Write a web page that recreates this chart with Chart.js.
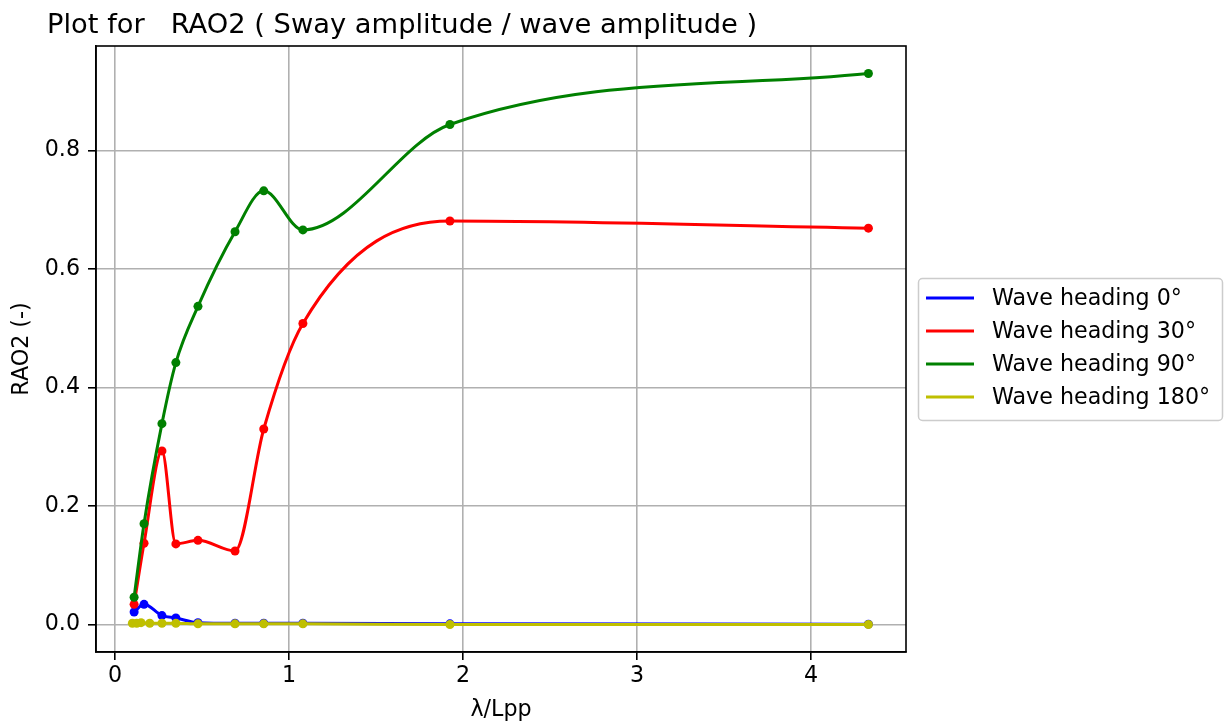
<!DOCTYPE html>
<html>
<head>
<meta charset="utf-8">
<script src="https://cdn.jsdelivr.net/npm/chart.js@4/dist/chart.umd.min.js"></script>
<style>
  body { margin: 0; background: #fff; }
  #wrap { width: 1227px; height: 722px; }
</style>
</head>
<body>
<div id="wrap"><canvas id="rao" width="1227" height="722"></canvas></div>
<script>
// lambda / Lpp sample points
const lambdaLpp = [0.11, 0.167, 0.27, 0.35, 0.477, 0.69, 0.855, 1.08, 1.925, 4.33];
const lambdaLpp180 = [0.10, 0.125, 0.15, 0.20, 0.27, 0.35, 0.477, 0.69, 0.855, 1.08, 1.925, 4.33];

// RAO2 per wave heading
const rao0 = [0.021, 0.034, 0.015, 0.011, 0.003, 0.002, 0.002, 0.002, 0.001, 0.0005];
const rao30 = [0.034, 0.137, 0.293, 0.136, 0.142, 0.124, 0.330, 0.508, 0.681, 0.669];
const rao90 = [0.046, 0.170, 0.339, 0.442, 0.537, 0.663, 0.732, 0.666, 0.844, 0.930];
const rao180 = [0.002, 0.002, 0.003, 0.002, 0.002, 0.002, 0.001, 0.001, 0.001, 0.001, 0.000, 0.000];

const headings = ["Wave heading 0°", "Wave heading 30°", "Wave heading 90°", "Wave heading 180°"];
const colors = ["#0000ff", "#ff0000", "#008000", "#bfbf00"];

const xTicks = [0, 1, 2, 3, 4];
const yTicks = [0.0, 0.2, 0.4, 0.6, 0.8];

const FONT = "'DejaVu Sans', sans-serif";
const FS = 22.2;

function pts(xs, ys) {
    return xs.map((x, i) => ({ x: x, y: ys[i] }));
}

function series(i, xs, ys, order) {
    return {
        label: headings[i],
        data: pts(xs, ys),
        borderColor: colors[i],
        backgroundColor: colors[i],
        borderWidth: 3,
        pointRadius: 4.5,
        pointBorderWidth: 0,
        pointBackgroundColor: colors[i],
        cubicInterpolationMode: "monotone",
        order: order
    };
}

// frame, title and legend box in matplotlib style
const decor = {
    id: "decor",
    afterDraw(chart) {
        const ctx = chart.ctx;
        const a = chart.chartArea;
        ctx.save();
        ctx.strokeStyle = "#000";
        ctx.lineWidth = 1.6;
        ctx.strokeRect(a.left, a.top, a.right - a.left, a.bottom - a.top);

        ctx.fillStyle = "#000";
        ctx.font = "27.3px " + FONT;
        ctx.textBaseline = "alphabetic";
        ctx.textAlign = "left";
        ctx.fillText("Plot for   RAO2 ( Sway amplitude / wave amplitude )", 47, 33);

        // legend
        const lx = 918, ly = 278, lw = 304, lh = 142;
        ctx.beginPath();
        ctx.roundRect(lx + 0.5, ly + 0.5, lw, lh, 4);
        ctx.fillStyle = "rgba(255,255,255,0.8)";
        ctx.fill();
        ctx.strokeStyle = "#cccccc";
        ctx.lineWidth = 1.5;
        ctx.stroke();
        ctx.font = FS + "px " + FONT;
        ctx.textBaseline = "middle";
        headings.forEach((h, i) => {
            const y = 298 + i * 33;
            ctx.strokeStyle = colors[i];
            ctx.lineWidth = 3;
            ctx.beginPath();
            ctx.moveTo(926, y);
            ctx.lineTo(974, y);
            ctx.stroke();
            ctx.fillStyle = "#000";
            ctx.fillText(h, 992, y + 1);
        });
        ctx.restore();
    }
};

const gridOpts = { color: "#b0b0b0", lineWidth: 1.6, tickColor: "#000", tickLength: 8, tickWidth: 1.6 };

new Chart(document.getElementById("rao"), {
    type: "line",
    data: {
        datasets: [
            series(0, lambdaLpp, rao0, 3),
            series(1, lambdaLpp, rao30, 2),
            series(2, lambdaLpp, rao90, 1),
            series(3, lambdaLpp180, rao180, 0)
        ]
    },
    options: {
        responsive: false,
        animation: false,
        events: [],
        layout: { padding: { top: 46, right: 321, left: 0, bottom: 0 } },
        plugins: {
            legend: { display: false },
            title: { display: false },
            tooltip: { enabled: false }
        },
        scales: {
            x: {
                type: "linear",
                min: -0.109,
                max: 4.546,
                afterBuildTicks: s => { s.ticks = xTicks.map(v => ({ value: v })); },
                afterFit: s => { s.height = 70; },
                grid: gridOpts,
                border: { display: true, color: "#000", width: 1.6 },
                ticks: {
                    color: "#000",
                    padding: 3,
                    maxRotation: 0,
                    font: { family: FONT, size: FS },
                    callback: v => String(v)
                },
                title: {
                    display: true,
                    text: "λ/Lpp",
                    color: "#000",
                    padding: { top: 0, bottom: -2 },
                    font: { family: FONT, size: FS }
                }
            },
            y: {
                min: -0.0465,
                max: 0.9765,
                afterBuildTicks: s => { s.ticks = yTicks.map(v => ({ value: v })); },
                afterFit: s => { s.width = 96; },
                grid: gridOpts,
                border: { display: true, color: "#000", width: 1.6 },
                ticks: {
                    color: "#000",
                    padding: 8,
                    font: { family: FONT, size: FS },
                    callback: v => v.toFixed(1)
                },
                title: {
                    display: true,
                    text: "RAO2 (-)",
                    color: "#000",
                    padding: { top: 9, bottom: 0 },
                    font: { family: FONT, size: FS }
                }
            }
        }
    },
    plugins: [decor]
});
</script>
</body>
</html>
